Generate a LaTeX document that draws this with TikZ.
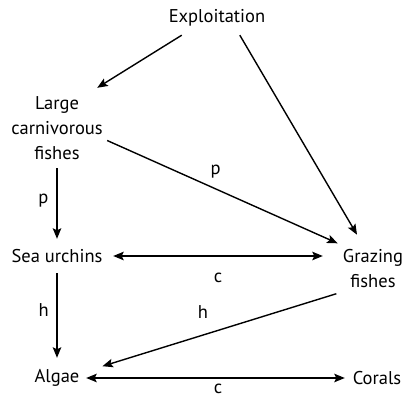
\documentclass[tikz,border=0pt]{standalone}
\usepackage{fontspec}
\setmainfont{PT Sans}
\usetikzlibrary{
  arrows.meta,
  positioning,
  shapes.geometric
}

\begin{document}
\begin{tikzpicture}[
  x=1pt, y=1pt,
  font=\fontsize{18.5}{25}\selectfont,
  species/.style={
    inner sep=0pt, align=center
  },
  lbl/.style={inner sep=2pt},
  arrow/.style={
    -{Stealth[length=10.5pt, width=8.5pt, inset=2pt]},
    line width=1.4pt
  },
  biarrow/.style={
    {Stealth[length=10.5pt, width=8.5pt, inset=2pt]}-{Stealth[length=10.5pt, width=8.5pt, inset=2pt]},
    line width=1.4pt
  }
]
\useasboundingbox (0,0) rectangle (408,397);

\node[species, minimum width=104pt, minimum height=34pt] (expl) at (217,379) {Exploitation};
\node[species, minimum width=100pt, minimum height=80pt] (large) at (57,269) {Large\\carnivorous\\fishes};
\node[species, minimum width=112pt, minimum height=34pt] (sea) at (57,141) {Sea urchins};
\node[species, ellipse, minimum width=100pt, minimum height=72pt] (graz) at (373,128) {Grazing\\fishes};
\node[species, minimum width=58pt, minimum height=40pt] (algae) at (57,19) {Algae};
\node[species, minimum width=64pt, minimum height=40pt] (corals) at (377,19) {Corals};

\draw[arrow] (expl.206.6) -- (large.45);
\draw[arrow] (expl.323.5) -- (graz.115.9);
\draw[arrow] (large.346.5) -- node[lbl, pos=0.47, above=8pt] (p1) {p} (graz.144.5);
\draw[arrow] (large.south) -- node[lbl, pos=0.46, left=6pt] (p2) {p} (sea.north);
\draw[biarrow] (sea.east) -- node[lbl, midway, below=14pt] (c1) {c} (sea.east -| graz.west);
\draw[arrow] (sea.south) -- node[lbl, pos=0.435, left=5.5pt] (h1) {h} (algae.north);
\draw[arrow, shorten >=17pt] (graz.214) -- node[lbl, pos=0.533, above=13.5pt] (h2) {h} (algae.13.2);
\draw[biarrow] (algae.east) -- node[lbl, pos=0.51, below=3pt] (c2) {c} (corals.west);
\end{tikzpicture}
\end{document}
